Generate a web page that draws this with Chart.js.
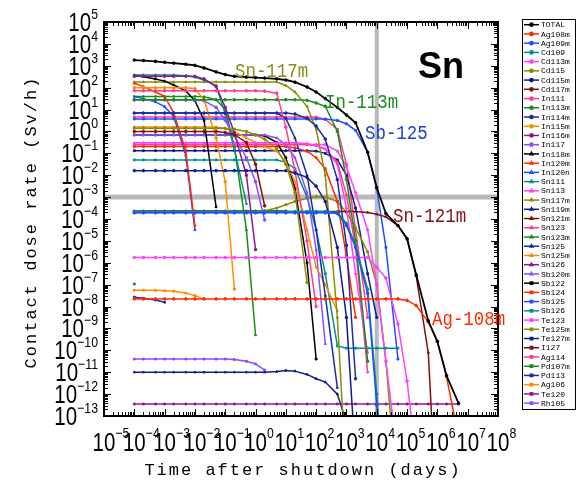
<!DOCTYPE html>
<html>
<head>
<meta charset="utf-8">
<script src="https://cdn.jsdelivr.net/npm/chart.js@4.4.1/dist/chart.umd.min.js"></script>
<style>
  html, body { margin: 0; padding: 0; background: #fff; }
  #wrap { width: 576px; height: 496px; }
</style>
</head>
<body>
<div id="wrap"><canvas id="doseChart" width="576" height="496"></canvas></div>
<script>
// time after shutdown (days), shared by every series
const days = [1e-4, 2e-4, 5e-4, 1e-3, 2e-3, 5e-3, 1e-2, 2e-2, 5e-2, 0.1, 0.2, 0.5, 1, 2, 5, 10, 20, 50,
              100, 200, 500, 1e3, 2e3, 5e3, 1e4, 2e4, 5e4, 1e5, 2e5, 5e5, 1e6, 2e6, 5e6];

// log10 of contact dose rate (Sv/h) at each time above
const TOTAL  = [3.26, 3.24, 3.2, 3.16, 3.12, 3.07, 3.02, 2.9, 2.72, 2.6, 2.52, 2.48, 2.46, 2.44, 2.4, 2.35, 2.25, 2.03,
                1.8, 1.5, 1.1, 0.75, 0.4, -0.95, -2.57, -3.75, -4.3, -4.9, -6.55, -8.65, -9.6, -11.15, -12.42];
const Ag108m = [-7.65, -7.65, -7.65, -7.65, -7.65, -7.65, -7.65, -7.65, -7.65, -7.65,
                -7.65, -7.65, -7.65, -7.65, -7.65, -7.65, -7.65, -7.65, -7.65, -7.65,
                -7.65, -7.65, -7.65, -7.65, -7.65, -7.65, -7.65, -7.72, -7.95, -8.7, -9.6, -11.2, -14];
const Ag109m = [-3.72, -3.72, -3.72, -3.72, -3.72, -3.72, -3.72, -3.72, -3.72, -3.72,
                -3.72, -3.72, -3.72, -3.72, -3.72, -3.72, -3.72, -3.72, -3.72, -3.72,
                -3.75, -4.3, -5.3, -7.4, -12.5, -18];
const Cd109  = [-3.66, -3.66, -3.66, -3.66, -3.66, -3.66, -3.66, -3.66, -3.66, -3.66,
                -3.66, -3.66, -3.66, -3.66, -3.66, -3.66, -3.66, -3.66, -3.66, -3.66,
                -3.7, -4.2, -5.2, -7.2, -12, -18];
const Cd113m = [-5.76, -5.76, -5.76, -5.76, -5.76, -5.76, -5.76, -5.76, -5.76, -5.76,
                -5.76, -5.76, -5.76, -5.76, -5.76, -5.76, -5.76, -5.76, -5.76, -5.76,
                -5.76, -5.76, -5.76, -5.76, -6.2, -6.7, -8.8, -11.4, -15];
const Cd115  = [0.15, 0.15, 0.15, 0.15, 0.15, 0.15, 0.15, 0.15, 0.15, 0.13, 0.1, 0, -0.15, -0.35, -0.8, -1.5, -2.8, -6.9];
const Cd115m = [-1.79, -1.79, -1.79, -1.79, -1.79, -1.79, -1.79, -1.79, -1.79, -1.79,
                -1.79, -1.79, -1.79, -1.79, -1.79, -1.79, -1.9, -2.1, -2.5, -3.2, -5.3, -8.5, -15];
const Cd117m = [0, 0, 0, 0, 0, 0, 0, 0, 0, -0.05, -0.15, -0.5, -1.5, -3.4];
const In111  = [1.86, 1.86, 1.86, 1.86, 1.86, 1.86, 1.86, 1.86, 1.86, 1.86, 1.86, 1.86, 1.86, 1.84, 1.75, 0.2, -1.8, -5, -8];
const In113m = [1.45, 1.45, 1.45, 1.45, 1.45, 1.45, 1.45, 1.45, 1.45, 1.45,
                1.45, 1.45, 1.45, 1.45, 1.45, 1.45, 1.45, 1.42, 1.3, 1.15, 0, -2.2, -5, -10.5];
const In114m = [0.84, 0.84, 0.84, 0.84, 0.84, 0.84, 0.84, 0.84, 0.84, 0.84,
                0.84, 0.84, 0.84, 0.84, 0.84, 0.84, 0.8, 0.6, 0.25, -0.35, -2.2, -5.2, -11.3];
const In115m = [2, 2, 2, 2, 2, 2, 1.95, 1.44, -0.3, -2.3, -7.2];
const In116m = [2.52, 2.52, 2.52, 2.52, 2.52, 2.52, 2.52, 2.4, 2.05, 1.1, -0.07, -2, -5.4];
const In117  = [1.44, 1.44, 1.44, 1.44, 1.44, 1.44, 1.44, 1.4, 1.1, 0.5, -0.2, -1.2, -2.3, -4.05];
const In118m = [2.55, 2.5, 2.4, 2.3, 2.12, 1.85, 1.4, 0.5, -3.45];
const In120m = [2.2, 2.05, 1.8, 1.6, 0.85, -0.9, -4.3];
const In120n = [1.6, 1.5, 1.35, 1.13, 0.68, -1.1, -4.5];
const Sn111  = [2.58, 2.58, 2.58, 2.58, 2.58, 2.55, 2.48, 2.35, 2.1, 0.8, -0.8, -3.3];
const Sn113  = [-0.52, -0.52, -0.52, -0.52, -0.52, -0.52, -0.52, -0.52, -0.52, -0.52,
                -0.52, -0.52, -0.52, -0.52, -0.52, -0.52, -0.52, -0.55, -0.65, -0.8, -1.5, -3.5, -6.5, -10.1];
const Sn117m = [2.26, 2.26, 2.26, 2.26, 2.26, 2.26, 2.26, 2.26, 2.26, 2.26,
                2.26, 2.26, 2.26, 2.26, 2.26, 2.1, 1.8, 1.15, 0.1, -2, -8.5, -16];
const Sn119m = [-11, -11, -11, -11, -11, -11, -11, -11, -11, -11,
                -11, -11, -11, -11, -10.97, -10.92, -10.95, -11.1, -11.3, -11.45, -12, -13.3];
const Sn121m = [-3.66, -3.66, -3.66, -3.66, -3.66, -3.66, -3.66, -3.66, -3.66, -3.66,
                -3.66, -3.66, -3.66, -3.66, -3.66, -3.66, -3.66, -3.66, -3.66, -3.66,
                -3.66, -3.66, -3.66, -3.7, -3.78, -3.9, -4.3, -4.9, -6.6, -10.1, -18];
const Sn123  = [-0.6, -0.6, -0.6, -0.6, -0.6, -0.6, -0.6, -0.6, -0.6, -0.6,
                -0.6, -0.6, -0.6, -0.6, -0.6, -0.6, -0.6, -0.6, -0.65, -0.8, -1.4, -2.9, -5.3, -11];
const Sn123m = [1.6, 1.6, 1.6, 1.6, 1.6, 1.6, 1.6, 1.58, 1.45, 1, -0.7, -4.5, -9.3];
const Sn125  = [0.84, 0.84, 0.84, 0.84, 0.84, 0.84, 0.84, 0.84, 0.84, 0.84,
                0.84, 0.84, 0.84, 0.84, 0.84, 0.6, -0.3, -2, -4.5, -7.5, -11.7];
const Sn125m = [0.2, 0.2, 0.2, 0.2, 0.2, 0.2, 0.2, 0.2, 0.2, 0.15, 0, -0.3, -0.5, -0.7, -0.9, -1.4, -2.3, -4.5, -6.2, -7, -8.2];
const Sn126  = [-3.7, -3.7, -3.7, -3.7, -3.7, -3.7, -3.7, -3.7, -3.7, -3.7, -3.7, -3.7, -3.7, -3.7];
const Sb120m = [-0.16, -0.16, -0.16, -0.16, -0.16, -0.16, -0.16, -0.16, -0.16, -0.16,
                -0.16, -0.16, -0.16, -0.16, -0.3, -0.6, -1.2, -2.8, -5.4, -9.7];
const Sb122  = [-0.16, -0.16, -0.16, -0.16, -0.16, -0.16, -0.16, -0.16, -0.16, -0.16,
                -0.16, -0.16, -0.16, -0.2, -0.5, -1.2, -2.6, -6, -10.4];
const Sb124  = [-0.69, -0.69, -0.69, -0.69, -0.69, -0.69, -0.69, -0.69, -0.69, -0.69,
                -0.69, -0.69, -0.69, -0.69, -0.69, -0.69, -0.75, -0.9, -1.2, -1.7, -3.2, -5.7, -8.5];
const Sb125  = [0.57, 0.57, 0.57, 0.57, 0.57, 0.57, 0.57, 0.57, 0.57, 0.57,
                0.57, 0.57, 0.57, 0.57, 0.57, 0.57, 0.57, 0.57, 0.57, 0.57,
                0.5, 0.35, 0.05, -0.95, -2.6, -5.3, -10.4];
const Sb126  = [-1.3, -1.3, -1.3, -1.3, -1.3, -1.3, -1.3, -1.3, -1.3, -1.3,
                -1.3, -1.3, -1.3, -1.3, -1.3, -1.4, -1.7, -3, -4.5, -6.5, -9.8,
                -9.9, -9.9, -9.9, -9.9, -9.9, -9.9];
const Te123  = [-0.6, -0.6, -0.6, -0.6, -0.6, -0.6, -0.6, -0.6, -0.6, -0.6,
                -0.6, -0.6, -0.6, -0.6, -0.6, -0.6, -0.6, -0.6, -0.6, -0.6,
                -0.9, -1.6, -2.8, -4.5, -7, -10.5, -15];
const Te125m = [-3.66, -3.66, -3.66, -3.66, -3.66, -3.66, -3.66, -3.66, -3.66, -3.66,
                -3.66, -3.66, -3.66, -3.62, -3.5, -3.35, -3.2, -3.05, -2.98, -3, -3.2, -3.7,
                -4.4, -5.5, -7, -10.5, -17];
const Te127m = [-0.88, -0.88, -0.88, -0.88, -0.88, -0.88, -0.88, -0.88, -0.88, -0.88,
                -0.88, -0.88, -0.88, -0.88, -0.88, -0.88, -0.88, -0.88, -0.9, -1, -1.3, -2, -3.5, -6.5, -8.5];
const I127   = [-3.64, -3.64, -3.64, -3.64, -3.64, -3.64, -3.64, -3.64, -3.64, -3.64,
                -3.64, -3.64, -3.64, -3.64, -3.64, -3.64];
const Ag114  = [0.66, 0.66, 0.66, 0.66, 0.66, 0.66, 0.66, 0.66, 0.66, 0.66,
                0.66, 0.66, 0.66, 0.66, 0.66, 0.66, 0.66, 0.66, 0.66, 0.55, 0.1, -1.5, -4.5, -8.5];
const Pd107m = [-6.97];
const Pd113  = [-7.57, -7.62, -7.7, -7.8];
const Ag106  = [-7.25, -7.25, -7.26, -7.28, -7.3, -7.38, -7.5, -7.65];
const Te120  = [-12.45, -12.45, -12.45, -12.45, -12.45, -12.45, -12.45, -12.45, -12.45, -12.45,
                -12.45, -12.45, -12.45, -12.45, -12.45, -12.45, -12.45, -12.45, -12.45, -12.45,
                -12.45, -12.45, -12.45, -12.45, -12.45, -12.45, -12.45, -12.45, -12.45, -12.45,
                -12.45, -12.45, -12.45];
const Rh105  = [-10.4, -10.4, -10.4, -10.4, -10.4, -10.4, -10.4, -10.4, -10.4, -10.4, -10.42, -10.5, -10.62, -10.9];

const nuclides = ['TOTAL', 'Ag108m', 'Ag109m', 'Cd109', 'Cd113m', 'Cd115', 'Cd115m', 'Cd117m', 'In111', 'In113m',
                  'In114m', 'In115m', 'In116m', 'In117', 'In118m', 'In120m', 'In120n', 'Sn111', 'Sn113', 'Sn117m',
                  'Sn119m', 'Sn121m', 'Sn123', 'Sn123m', 'Sn125', 'Sn125m', 'Sn126', 'Sb120m', 'Sb122', 'Sb124',
                  'Sb125', 'Sb126', 'Te123', 'Te125m', 'Te127m', 'I127', 'Ag114', 'Pd107m', 'Pd113', 'Ag106',
                  'Te120', 'Rh105'];
const series = [TOTAL, Ag108m, Ag109m, Cd109, Cd113m, Cd115, Cd115m, Cd117m, In111, In113m,
                In114m, In115m, In116m, In117, In118m, In120m, In120n, Sn111, Sn113, Sn117m,
                Sn119m, Sn121m, Sn123, Sn123m, Sn125, Sn125m, Sn126, Sb120m, Sb122, Sb124,
                Sb125, Sb126, Te123, Te125m, Te127m, I127, Ag114, Pd107m, Pd113, Ag106,
                Te120, Rh105];

const xTickExp = [-5, -4, -3, -2, -1, 0, 1, 2, 3, 4, 5, 6, 7, 8];
const yTickExp = [5, 4, 3, 2, 1, 0, -1, -2, -3, -4, -5, -6, -7, -8, -9, -10, -11, -12, -13];

const palette = ['#000000', '#ff2a00', '#1f4fff', '#009090', '#ff40ff', '#8c8c00', '#101c8c',
                 '#801010', '#ff3c8c', '#1a8c1a', '#1a2ca0', '#ff8c00', '#8c1a8c', '#8c4cff'];
const markers = ['circle', 'triangle', 'rect', 'crossRot'];

const datasets = series.map((vals, i) => ({
  label: nuclides[i],
  data: vals.map((v, k) => ({ x: days[k], y: Math.pow(10, v) })),
  borderColor: palette[i % 14],
  backgroundColor: palette[i % 14],
  borderWidth: i === 0 ? 1.8 : 1.5,
  pointRadius: 1.3,
  pointBorderWidth: 1,
  pointStyle: markers[Math.floor(i / 14) % markers.length],
  fill: false,
  tension: 0
}));

const MONO = '"Liberation Mono", "DejaVu Sans Mono", monospace';
const SANS = '"Liberation Sans", Arial, sans-serif';

function narrow(ctx, str, x, y, sx) {
  ctx.save();
  ctx.translate(x, y);
  ctx.scale(sx, 1);
  ctx.fillText(str, 0, 0);
  ctx.restore();
}

function expText(e) {
  return e < 0 ? '\u2212' + Math.abs(e) : String(e);
}

const frame = {
  id: 'frame',
  beforeDatasetsDraw(chart) {
    const { ctx, chartArea: a, scales: { x, y } } = chart;
    ctx.save();
    ctx.strokeStyle = '#b8b8b8';
    const gx = x.getPixelForValue(1e4);
    const gy = y.getPixelForValue(1e-3);
    ctx.lineWidth = 4;
    ctx.beginPath(); ctx.moveTo(gx, a.top); ctx.lineTo(gx, a.bottom); ctx.stroke();
    ctx.lineWidth = 5;
    ctx.beginPath(); ctx.moveTo(a.left, gy); ctx.lineTo(a.right, gy); ctx.stroke();
    ctx.restore();
  },
  afterDatasetsDraw(chart) {
    const { ctx, chartArea: a, scales: { x, y } } = chart;
    ctx.save();

    // inward ticks on all four sides
    ctx.strokeStyle = '#000';
    ctx.lineWidth = 1;
    ctx.beginPath();
    for (let d = -5; d <= 8; d++) {
      for (let m = 1; m <= 9; m++) {
        if (d === 8 && m > 1) break;
        const px = Math.round(x.getPixelForValue(m * Math.pow(10, d))) + 0.5;
        const len = m === 1 ? 7 : 4;
        ctx.moveTo(px, a.bottom); ctx.lineTo(px, a.bottom - len);
        ctx.moveTo(px, a.top); ctx.lineTo(px, a.top + len);
      }
    }
    for (let d = -13; d <= 5; d++) {
      for (let m = 1; m <= 9; m++) {
        if (d === 5 && m > 1) break;
        const py = Math.round(y.getPixelForValue(m * Math.pow(10, d))) + 0.5;
        const len = m === 1 ? 7 : 4;
        ctx.moveTo(a.left, py); ctx.lineTo(a.left + len, py);
        ctx.moveTo(a.right, py); ctx.lineTo(a.right - len, py);
      }
    }
    ctx.stroke();
    ctx.lineWidth = 2;
    ctx.strokeRect(a.left, a.top, a.right - a.left, a.bottom - a.top);

    // tick labels 10^n
    ctx.fillStyle = '#000';
    ctx.textAlign = 'left';
    ctx.textBaseline = 'alphabetic';
    const sx = 0.82;
    const bigFont = '25px ' + SANS;
    const supFont = '15px ' + SANS;
    yTickExp.forEach(e => {
      const py = y.getPixelForValue(Math.pow(10, e));
      ctx.font = bigFont;
      const w10 = ctx.measureText('10').width * sx;
      ctx.font = supFont;
      const we = ctx.measureText(expText(e)).width * sx;
      const right = a.left - 6;
      ctx.font = bigFont;
      narrow(ctx, '10', right - we - w10, py + 9, sx);
      ctx.font = supFont;
      narrow(ctx, expText(e), right - we, py - 3, sx);
    });
    xTickExp.forEach(e => {
      const px = x.getPixelForValue(Math.pow(10, e));
      ctx.font = bigFont;
      const w10 = ctx.measureText('10').width * sx;
      narrow(ctx, '10', px - w10 / 2, a.bottom + 35, sx);
      ctx.font = supFont;
      narrow(ctx, expText(e), px + w10 / 2, a.bottom + 22, sx);
    });

    // axis titles
    ctx.font = '17px ' + MONO;
    ctx.letterSpacing = '2px';
    ctx.textAlign = 'center';
    ctx.fillText('Time after shutdown (days)', 303, 475);
    ctx.save();
    ctx.translate(36, 222);
    ctx.rotate(-Math.PI / 2);
    ctx.fillText('Contact dose rate (Sv/h)', 0, 0);
    ctx.restore();
    ctx.letterSpacing = '0px';

    // element label and curve annotations
    ctx.textAlign = 'left';
    ctx.font = 'bold 36px ' + SANS;
    ctx.fillText('Sn', 418, 78);
    const notes = [
      ['Sn-117m', 235, 77, '#8c8c1a'],
      ['In-113m', 325, 108, '#1a8c1a'],
      ['Sb-125', 365, 139, '#1f3fd0'],
      ['Sn-121m', 393, 222, '#801010'],
      ['Ag-108m', 432, 325, '#ff2a00']
    ];
    ctx.font = '20px ' + MONO;
    notes.forEach(([t, nx, ny, c]) => {
      ctx.fillStyle = c;
      narrow(ctx, t, nx, ny, 0.87);
    });

    // legend
    const lx = 522.5, ly = 19.5, lw = 53, lh = 390;
    ctx.fillStyle = '#fff';
    ctx.fillRect(lx, ly, lw, lh);
    ctx.strokeStyle = '#000';
    ctx.lineWidth = 1;
    ctx.strokeRect(lx, ly, lw, lh);
    ctx.font = '8px ' + MONO;
    ctx.textBaseline = 'middle';
    chart.data.datasets.forEach((ds, i) => {
      const yy = 24.7 + i * 9.23;
      ctx.strokeStyle = ds.borderColor;
      ctx.lineWidth = 1.5;
      ctx.beginPath(); ctx.moveTo(524, yy); ctx.lineTo(539, yy); ctx.stroke();
      ctx.fillStyle = ds.borderColor;
      if (Chart.helpers && Chart.helpers.drawPoint) {
        Chart.helpers.drawPoint(ctx, { pointStyle: ds.pointStyle, radius: 1.6, rotation: 0, borderWidth: 1 }, 531.5, yy);
      }
      ctx.fillStyle = '#000';
      ctx.fillText(ds.label, 541, yy + 0.5);
    });

    ctx.restore();
  }
};

new Chart(document.getElementById('doseChart'), {
  type: 'line',
  data: { datasets },
  options: {
    responsive: false,
    animation: false,
    layout: { padding: { left: 104, right: 78, top: 22, bottom: 80 } },
    plugins: { legend: { display: false }, tooltip: { enabled: false } },
    scales: {
      x: { type: 'logarithmic', min: 1e-5, max: 1e8, display: false },
      y: { type: 'logarithmic', min: 1e-13, max: 1e5, display: false }
    }
  },
  plugins: [frame]
});
</script>
</body>
</html>
